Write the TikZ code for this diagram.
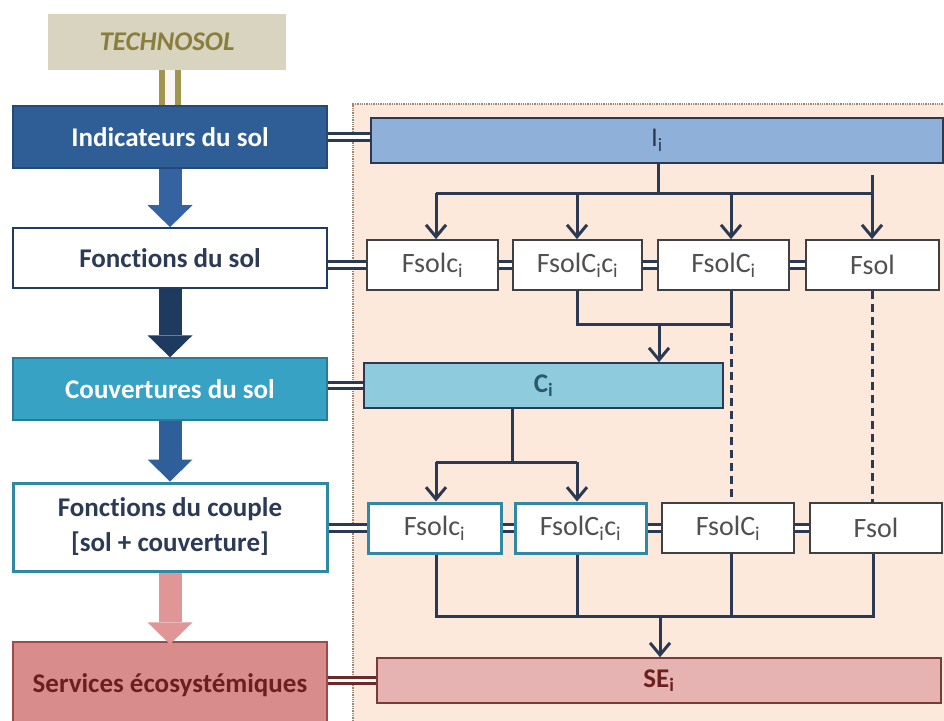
\documentclass[tikz,border=0pt]{standalone}
\usepackage{fontspec}
\setmainfont[Ligatures=NoCommon]{Carlito}
\usetikzlibrary{arrows.meta,calc}
\definecolor{panelfill}{HTML}{FDE9DB}
\definecolor{panelline}{HTML}{9A8474}
\definecolor{techfill}{HTML}{D9D4BF}
\definecolor{techtext}{HTML}{8A7E3C}
\definecolor{techline}{HTML}{A09650}
\definecolor{indfill}{HTML}{2F5D96}
\definecolor{indline}{HTML}{24487A}
\definecolor{navy}{HTML}{1F3D62}
\definecolor{navytext}{HTML}{2B3A55}
\definecolor{coufill}{HTML}{38A2C5}
\definecolor{couline}{HTML}{2A7A98}
\definecolor{tealline}{HTML}{2F88A4}
\definecolor{serfill}{HTML}{D98C8C}
\definecolor{serline}{HTML}{9C4A4A}
\definecolor{sertext}{HTML}{6B1F1F}
\definecolor{arrA}{HTML}{3562A0}
\definecolor{arrB}{HTML}{1E3A5F}
\definecolor{arrC}{HTML}{2F5F9B}
\definecolor{arrD}{HTML}{E09696}
\definecolor{iifill}{HTML}{8FB0D9}
\definecolor{cifill}{HTML}{8ECBDC}
\definecolor{citext}{HTML}{2A5A6A}
\definecolor{sefill}{HTML}{E6B2B2}
\definecolor{seline}{HTML}{7A3A3A}
\definecolor{connc}{HTML}{2B3A52}
\definecolor{boxline}{HTML}{404040}
\definecolor{boxtext}{HTML}{505050}
\definecolor{dblred}{HTML}{6B2A2A}
\tikzset{
  leftbox/.style={rectangle, minimum width=314pt, inner sep=0pt, align=center,
    font=\fontsize{27}{35}\selectfont\bfseries, line width=1.4pt},
  rowbox/.style={rectangle, draw=boxline, fill=white, line width=1.7pt,
    minimum height=50pt, inner sep=0pt, text=boxtext, font=\fontsize{28}{32}\selectfont},
  tealbox/.style={rowbox, draw=tealline, line width=3pt},
  widebox/.style={rectangle, line width=1.6pt, minimum height=45pt, inner sep=0pt,
    font=\fontsize{27}{32}\selectfont},
  conn/.style={draw=connc, line width=3pt},
  arr/.style={conn, -{Straight Barb[length=12pt,width=20pt]}},
  dashc/.style={draw=connc, line width=3pt, dash pattern=on 8pt off 5pt},
  dbl/.style={draw=connc, line width=3pt, double=white, double distance=3.5pt},
  bigarr/.style={line width=23pt, -{Triangle[length=22pt,width=45pt,line width=0pt]}},
}
\begin{document}
\begin{tikzpicture}[x=1pt,y=-1pt]
\useasboundingbox (0,0) rectangle (944,720);
\fill[white] (0,0) rectangle (944,720);
% panel
\fill[panelfill] (353,104) rectangle (950,730);
\draw[panelline, densely dotted, line width=1.3pt] (353,730) -- (353,104) -- (950,104);

% left column
\node[rectangle, fill=techfill, minimum width=238pt, minimum height=56pt, inner sep=0pt,
  text=techtext, font=\fontsize{27}{30}\selectfont\bfseries\itshape] (tech) at (167,42) {TECHNOSOL};
\node[leftbox, fill=indfill, draw=indline, minimum height=62pt, text=white] (ind) at (170,137) {Indicateurs du sol};
\node[leftbox, fill=white, draw=navy, line width=1.8pt, minimum height=60pt, text=navytext] (fds) at (170,258) {Fonctions du sol};
\node[leftbox, fill=coufill, draw=couline, minimum height=62pt, text=white] (cou) at (170,389) {Couvertures du sol};
\node[leftbox, fill=white, draw=tealline, line width=3pt, minimum height=88pt, text=navytext] (fdc) at (170,527) {Fonctions du couple\\{}[sol + couverture]};
\node[leftbox, fill=serfill, draw=serline, minimum height=86pt, text=sertext] (ser) at (170,685) {Services écosystémiques};

\draw[techline, line width=6pt, double=white!80!techfill, double distance=10pt] (tech.south -| ind.north) -- (ind.north);

% big arrows
\draw[bigarr, arrA] (ind.south) -- (fds.north);
\draw[bigarr, arrB] (fds.south) -- (cou.north);
\draw[bigarr, arrC] (cou.south) -- (fdc.north);
\draw[bigarr, arrD] (fdc.south) -- ([yshift=-3pt]ser.north);

% panel boxes
\node[widebox, fill=iifill, draw=connc, minimum width=572pt, text=connc] (Ii) at (657,140.5) {I\textsubscript{i}};
\node[rowbox, minimum width=131pt] (r1a) at (432.5,265) {Fsolc\textsubscript{i}};
\node[rowbox, minimum width=129pt] (r1b) at (577.5,265) {FsolC\textsubscript{i}c\textsubscript{i}};
\node[rowbox, minimum width=131pt] (r1c) at (723.5,265) {FsolC\textsubscript{i}};
\node[rowbox, minimum width=133pt] (r1d) at (872.5,265) {Fsol};
\node[widebox, fill=cifill, draw=connc, minimum width=359pt, text=citext, font=\fontsize{27}{32}\selectfont\bfseries] (Ci) at (543.5,385.5) {C\textsubscript{i}};
\node[tealbox, minimum width=133pt] (r2a) at (434.5,528) {Fsolc\textsubscript{i}};
\node[tealbox, minimum width=131pt] (r2b) at (580.5,528) {FsolC\textsubscript{i}c\textsubscript{i}};
\node[rowbox, minimum width=132pt] (r2c) at (728,528) {FsolC\textsubscript{i}};
\node[rowbox, minimum width=132pt] (r2d) at (876,528) {Fsol};
\node[widebox, fill=sefill, draw=seline, minimum width=564pt, text=sertext, font=\fontsize{27}{32}\selectfont\bfseries] (SEi) at (659,680.5) {SE\textsubscript{i}};

% double connectors
\draw[dbl] (ind.east) -- (ind.east -| Ii.west);
\draw[dbl] (fds.east |- r1a.west) -- (r1a.west);
\draw[dbl] (r1a.east) -- (r1b.west);
\draw[dbl] (r1b.east) -- (r1c.west);
\draw[dbl] (r1c.east) -- (r1d.west);
\draw[dbl] (cou.east |- Ci.west) -- (Ci.west);
\draw[dbl] (fdc.east |- r2a.west) -- (r2a.west);
\draw[dbl] (r2a.east) -- (r2b.west);
\draw[dbl] (r2b.east) -- (r2c.west);
\draw[dbl] (r2c.east) -- (r2d.west);
\draw[dbl, draw=dblred] (ser.east |- SEi.west) -- (SEi.west);

% tree 1: Ii -> row 1
\coordinate (j0) at (658,193);
\coordinate (cA) at (436,193);
\coordinate (cB) at (577,193);
\coordinate (cC) at (731,193);
\coordinate (cD) at (872,193);
\coordinate (cDtop) at (872,175);
\draw[conn] (Ii.south -| j0) -- (j0);
\draw[conn] (cA) -- (cD);
\draw[arr] (cA) -- (cA |- r1a.north);
\draw[arr] (cB) -- (cB |- r1b.north);
\draw[arr] (cC) -- (cC |- r1c.north);
\draw[arr] (cDtop) -- (cD |- r1d.north);

% tree 2: row 1 -> Ci
\coordinate (k1) at (577,324);
\coordinate (k2) at (731,324);
\coordinate (k3) at (659,324);
\draw[conn] (k1 |- r1b.south) -- (k1) -- (k2) -- (k2 |- r1c.south);
\draw[arr] (k3) -- (k3 |- Ci.north);
\draw[dashc] ([yshift=4pt]k2) -- (k2 |- r2c.north);
\draw[dashc] (cD |- r1d.south) -- (cD |- r2d.north);

% tree 3: Ci -> row 2
\coordinate (m1) at (512,462);
\coordinate (m2) at (436,462);
\coordinate (m3) at (577,462);
\draw[conn] (Ci.south -| m1) -- (m1);
\draw[conn] (m2) -- (m3);
\draw[arr] (m2) -- (m2 |- r2a.north);
\draw[arr] (m3) -- (m3 |- r2b.north);

% tree 4: row 2 -> SEi
\coordinate (n1) at (436,616);
\coordinate (n2) at (577,616);
\coordinate (n3) at (731,616);
\coordinate (n4) at (873,616);
\coordinate (n5) at (660,616);
\draw[conn] (n1 |- r2a.south) -- (n1) -- (n4) -- (n4 |- r2d.south);
\draw[conn] (n2 |- r2b.south) -- (n2);
\draw[conn] (n3 |- r2c.south) -- (n3);
\draw[arr] (n5) -- (n5 |- SEi.north);
\end{tikzpicture}
\end{document}
